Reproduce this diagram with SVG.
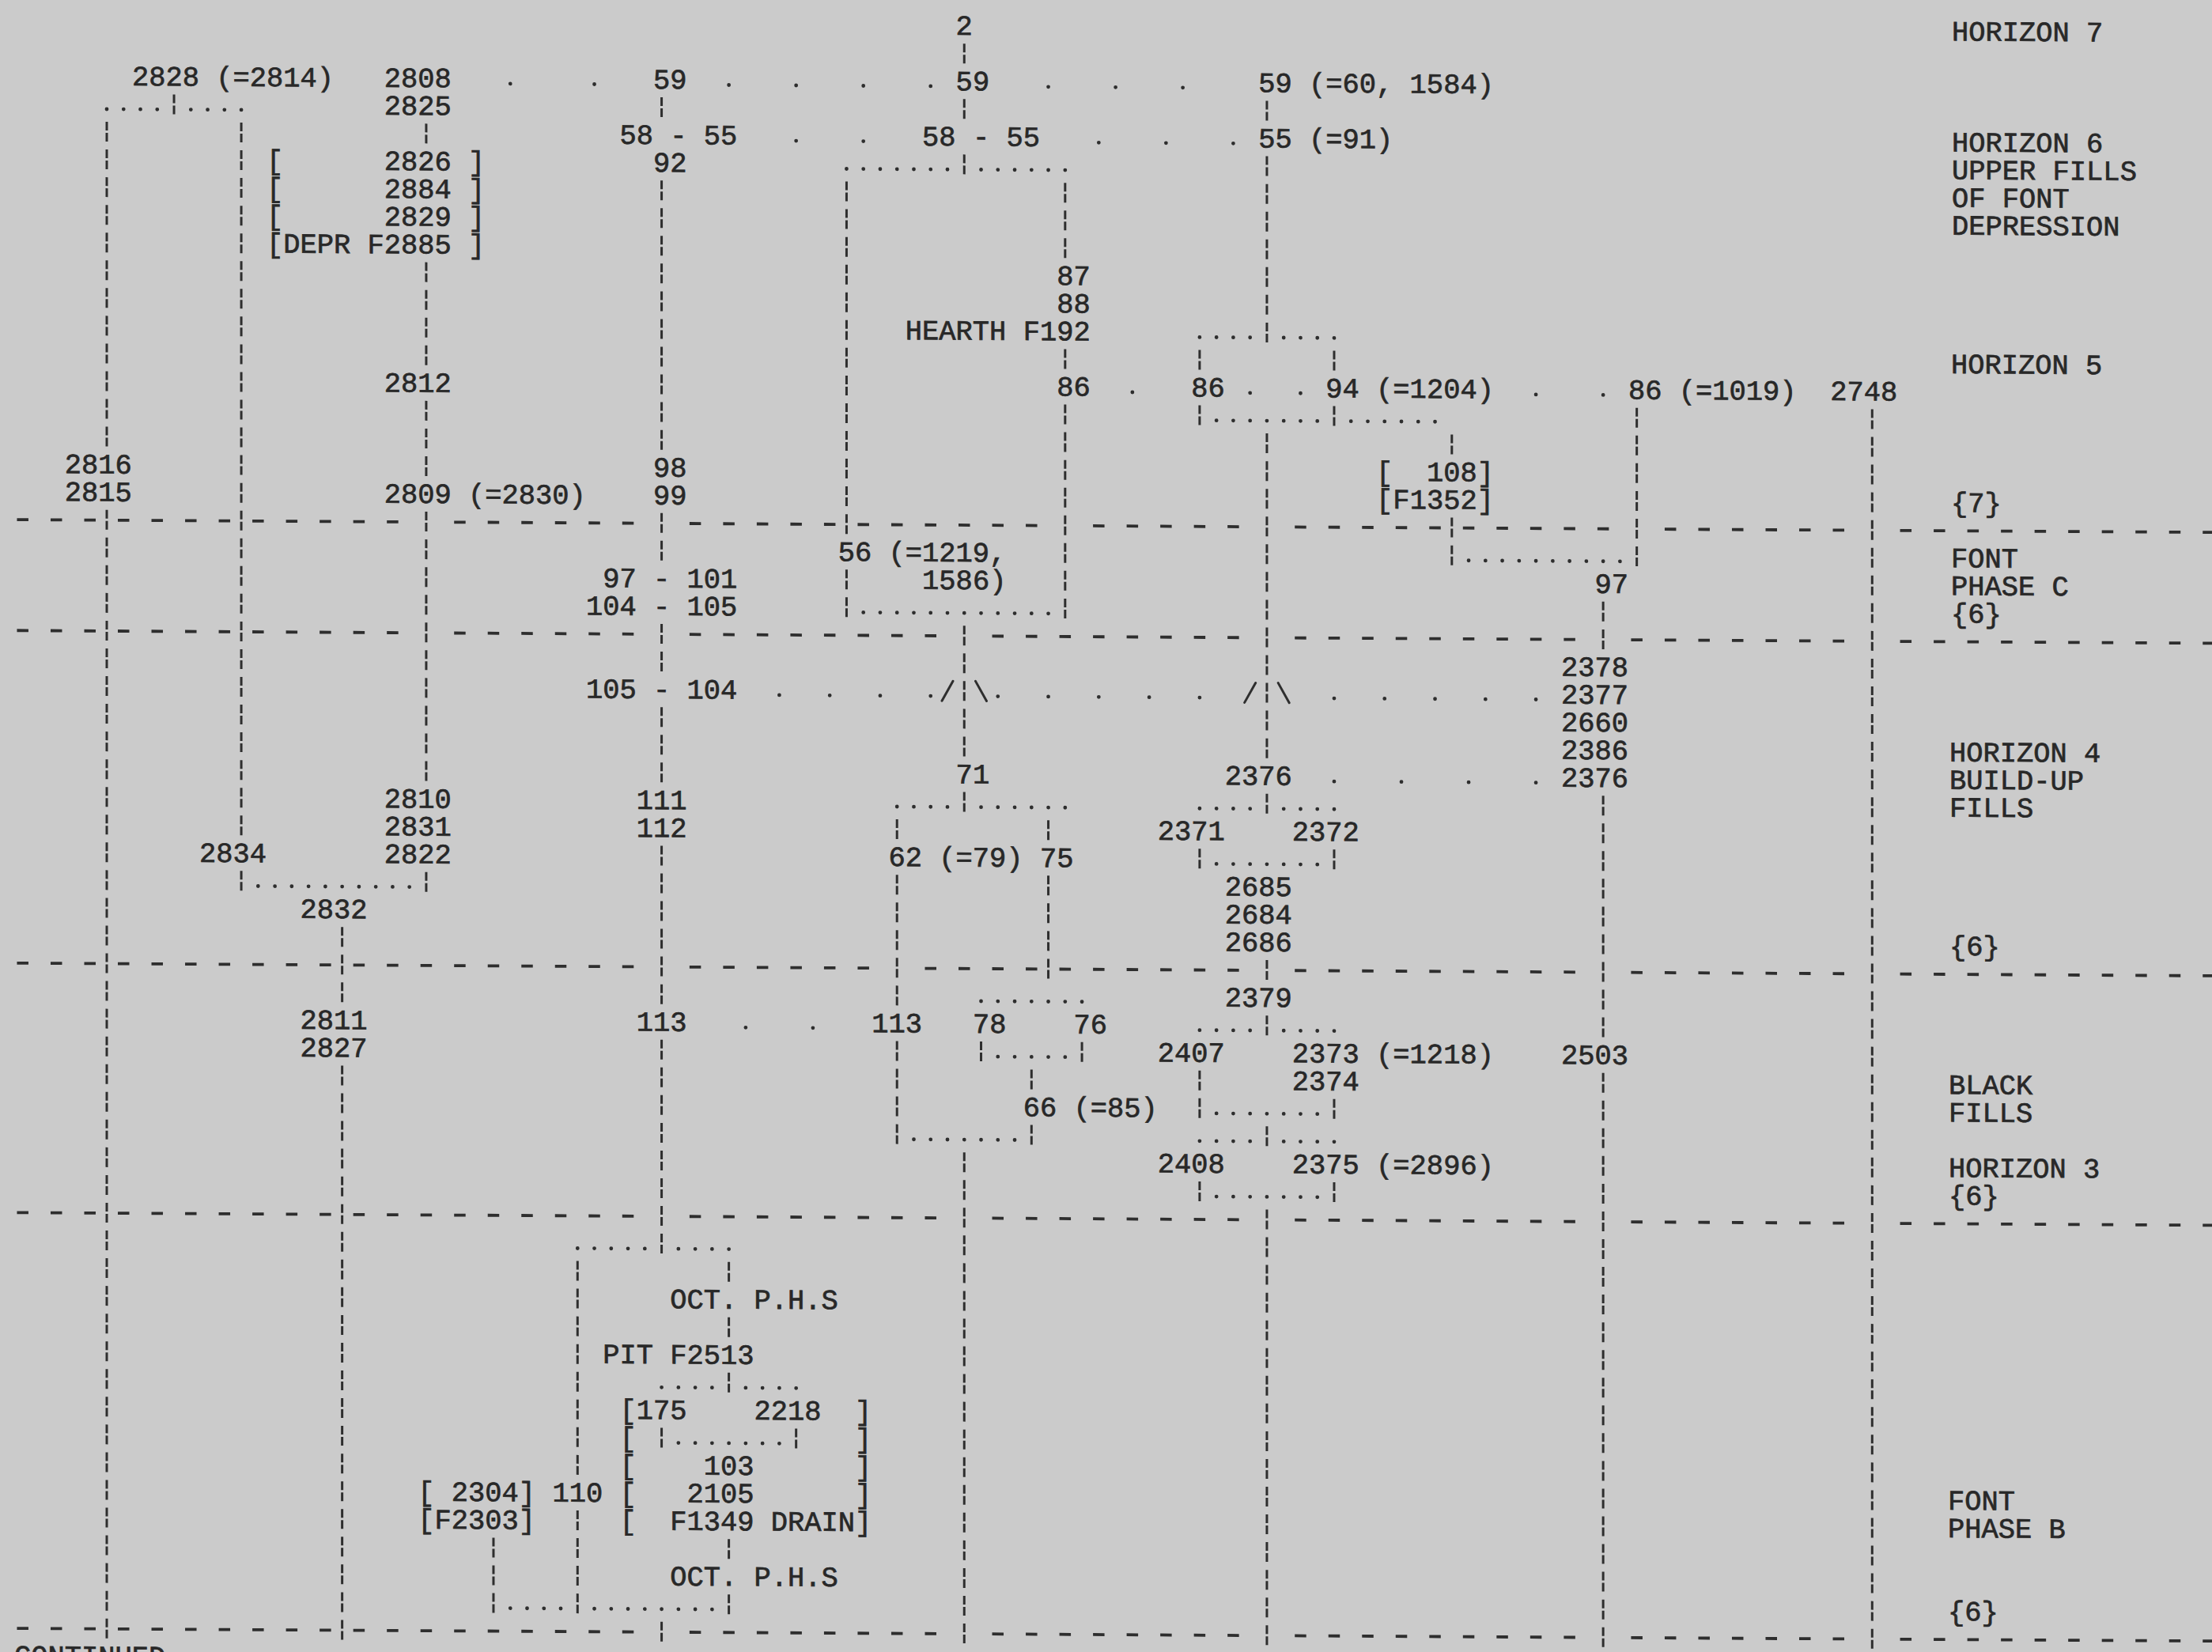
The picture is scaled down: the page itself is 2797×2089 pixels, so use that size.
<svg xmlns="http://www.w3.org/2000/svg" width="2797" height="2089" viewBox="0 0 2797 2089" xml:space="preserve">
<style>
.t{font-family:"Liberation Mono","DejaVu Sans Mono",monospace;font-size:35.43px;fill:#282828;stroke:#282828;stroke-width:0.7;white-space:pre}
.v{stroke:#2e2e2e;stroke-width:3;stroke-dasharray:11 3 11 10.05;fill:none}
.h{stroke:#2e2e2e;stroke-width:3.8;stroke-dasharray:14.5 28.02;fill:none}
.d1{stroke:#2e2e2e;stroke-width:4.8;stroke-linecap:round;stroke-dasharray:0 21.26;fill:none}
.d3{stroke:#2e2e2e;stroke-width:4.8;stroke-linecap:round;stroke-dasharray:0 63.78;fill:none}
.d4{stroke:#2e2e2e;stroke-width:4.8;stroke-linecap:round;stroke-dasharray:0 85.04;fill:none}
.dot{fill:#2e2e2e}
.sl{stroke:#2e2e2e;stroke-width:3;stroke-linecap:round;fill:none}
</style>
<rect width="2797" height="2089" fill="#cbcbcb"/>
<g id="sheet" transform="matrix(1 0.0058 0 1 18.07 37.15)">
<g id="connectors">
<g id="horizon-lines">
<path class="h" d="M3.38 619.9H485.6M556.14 619.9H783.24M853.78 619.9H1293.48M1364.02 619.9H1548.6M1619.14 619.9H2016.32M2086.86 619.9H2313.96M2384.5 619.9H2781.68"/>
<path class="h" d="M3.38 760.1H485.6M556.14 760.1H783.24M853.78 760.1H1165.92M1236.46 760.1H1548.6M1619.14 760.1H1973.8M2044.34 760.1H2313.96M2384.5 760.1H2781.68"/>
<path class="h" d="M3.38 1180.7H783.24M853.78 1180.7H1080.88M1151.42 1180.7H1548.6M1619.14 1180.7H1973.8M2044.34 1180.7H2313.96M2384.5 1180.7H2781.68"/>
<path class="h" d="M3.38 1496.15H783.24M853.78 1496.15H1165.92M1236.46 1496.15H1548.6M1619.14 1496.15H1973.8M2044.34 1496.15H2313.96M2384.5 1496.15H2781.68"/>
<path class="h" d="M3.38 2021.9H783.24M853.78 2021.9H1165.92M1236.46 2021.9H1548.6M1619.14 2021.9H1973.8M2044.34 2021.9H2313.96M2384.5 2021.9H2781.68"/>
</g>
<g id="verticals">
<path class="v" d="M116.93 116.2V526.75M116.93 606.9V2033.9"/>
<path class="v" d="M201.97 81.15V106.15"/>
<path class="v" d="M287.01 116.2V1017.45M287.01 1062.55V1087.55"/>
<path class="v" d="M414.57 1132.65V1227.75M414.57 1307.9V2033.9"/>
<path class="v" d="M520.87 116.2V141.2M520.87 291.45V421.6M520.87 466.7V561.8M520.87 606.9V947.35M520.87 1062.55V1087.55"/>
<path class="v" d="M605.91 1903.75V1998.85"/>
<path class="v" d="M712.21 1553.25V1823.6M712.21 1868.7V1998.85"/>
<path class="v" d="M818.51 81.15V106.15M818.51 186.3V526.75M818.51 606.9V666.95M818.51 747.1V807.15M818.51 852.25V947.35M818.51 1027.5V1227.75M818.51 1272.85V1543.2M818.51 1763.55V1788.55M818.51 2008.9V2033.9"/>
<path class="v" d="M903.55 1553.25V1578.25M903.55 1623.35V1648.35M903.55 1693.45V1718.45M903.55 1903.75V1928.75M903.55 1973.85V1998.85"/>
<path class="v" d="M988.59 1763.55V1788.55"/>
<path class="v" d="M1052.37 186.3V631.9M1052.37 677V737.05"/>
<path class="v" d="M1116.15 992.45V1017.45M1116.15 1062.55V1227.75M1116.15 1272.85V1403"/>
<path class="v" d="M1201.19 11.05V36.05M1201.19 81.15V106.15M1201.19 151.25V176.25M1201.19 747.1V912.3M1201.19 957.4V982.4M1201.19 1413.05V2033.9"/>
<path class="v" d="M1222.45 1272.85V1297.85"/>
<path class="v" d="M1286.23 1307.9V1332.9M1286.23 1378V1403"/>
<path class="v" d="M1307.49 992.45V1017.45M1307.49 1062.55V1192.7"/>
<path class="v" d="M1328.75 186.3V281.4M1328.75 396.6V421.6M1328.75 466.7V737.05"/>
<path class="v" d="M1350.01 1272.85V1297.85"/>
<path class="v" d="M1498.83 396.6V421.6M1498.83 466.7V491.7M1498.83 1027.5V1052.5M1498.83 1307.9V1367.95M1498.83 1448.1V1473.1"/>
<path class="v" d="M1583.87 81.15V106.15M1583.87 151.25V386.55M1583.87 501.75V912.3M1583.87 957.4V982.4M1583.87 1167.7V1192.7M1583.87 1237.8V1262.8M1583.87 1378V1403M1583.87 1483.15V2033.9"/>
<path class="v" d="M1668.91 396.6V421.6M1668.91 466.7V491.7M1668.91 1027.5V1052.5M1668.91 1342.95V1367.95M1668.91 1448.1V1473.1"/>
<path class="v" d="M1817.73 501.75V526.75M1817.73 606.9V666.95"/>
<path class="v" d="M2009.07 712.05V772.1M2009.07 957.4V1262.8M2009.07 1307.9V2033.9"/>
<path class="v" d="M2051.59 466.7V666.95"/>
<path class="v" d="M2349.23 466.7V2033.9"/>
</g>
<g id="dotted-links">
<path class="d1" d="M116.93 100.15H181.21M223.23 100.15H287.51"/>
<path class="d1" d="M1052.37 170.25H1180.43M1222.45 170.25H1329.25"/>
<path class="d1" d="M1498.83 380.55H1563.11M1605.13 380.55H1669.41"/>
<path class="d1" d="M1520.09 485.7H1648.15M1690.17 485.7H1796.97"/>
<path class="d1" d="M1838.99 660.95H2030.83"/>
<path class="d1" d="M1073.63 731.05H1307.99"/>
<path class="d1" d="M1116.15 976.4H1180.43M1222.45 976.4H1329.25M1498.83 976.4H1563.11M1605.13 976.4H1669.41"/>
<path class="d1" d="M1520.09 1046.5H1648.15"/>
<path class="d1" d="M308.27 1081.55H500.11"/>
<path class="d1" d="M1222.45 1221.75H1350.51"/>
<path class="d1" d="M1498.83 1256.8H1563.11M1605.13 1256.8H1669.41"/>
<path class="d1" d="M1243.71 1291.85H1329.25"/>
<path class="d1" d="M1520.09 1361.95H1648.15"/>
<path class="d1" d="M1137.41 1397H1265.47M1498.83 1397H1563.11M1605.13 1397H1669.41"/>
<path class="d1" d="M1520.09 1467.1H1648.15"/>
<path class="d1" d="M712.21 1537.2H797.75M839.77 1537.2H904.05"/>
<path class="d1" d="M818.51 1712.45H882.79M924.81 1712.45H989.09"/>
<path class="d1" d="M839.77 1782.55H967.83"/>
<path class="d1" d="M627.17 1992.85H691.45M733.47 1992.85H882.79"/>
<path class="d4" d="M903.55 65.1H1159.17M1307.49 65.1H1478.07"/>
<path class="d4" d="M988.59 135.2H1074.13M1371.27 135.2H1541.85"/>
<path class="d3" d="M967.33 836.2H1159.17M1243.71 836.2H1499.33M1668.91 836.2H1924.53"/>
<path class="d4" d="M1668.91 941.35H1924.53"/>
<path class="d4" d="M924.81 1256.8H1010.35"/>
<circle class="dot" cx="627.17" cy="65.1" r="2.4"/>
<circle class="dot" cx="733.47" cy="65.1" r="2.4"/>
<circle class="dot" cx="1413.79" cy="450.65" r="2.4"/>
<circle class="dot" cx="1562.61" cy="450.65" r="2.4"/>
<circle class="dot" cx="1626.39" cy="450.65" r="2.4"/>
<circle class="dot" cx="1924.03" cy="450.65" r="2.4"/>
<circle class="dot" cx="2009.07" cy="450.65" r="2.4"/>
</g>
<g id="splits">
<path class="sl" d="M1172.93 842.2L1186.93 817.2M1215.45 817.2L1229.45 842.2M1555.61 842.2L1569.61 817.2M1598.13 817.2L1612.13 842.2"/>
</g>
</g>
<g id="n2"><text class="t" x="1190.56" y="0">2</text></g>
<g id="n2828"><text class="t" x="148.82" y="70.1">2828 (=2814)</text></g>
<g id="n2808"><text class="t" x="467.72" y="70.1">2808</text><text class="t" x="467.72" y="105.15">2825</text></g>
<g id="n59a"><text class="t" x="807.88" y="70.1">59</text></g>
<g id="n59b"><text class="t" x="1190.56" y="70.1">59</text></g>
<g id="n59c"><text class="t" x="1573.24" y="70.1">59 (=60, 1584)</text></g>
<g id="n58a"><text class="t" x="765.36" y="140.2">58 - 55</text></g>
<g id="n58b"><text class="t" x="1148.04" y="140.2">58 - 55</text></g>
<g id="n55"><text class="t" x="1573.24" y="140.2">55 (=91)</text></g>
<g id="nF2885"><text class="t" x="318.9" y="175.25">[      2826 ]</text><text class="t" x="318.9" y="210.3">[      2884 ]</text><text class="t" x="318.9" y="245.35">[      2829 ]</text><text class="t" x="318.9" y="280.4">[DEPR F2885 ]</text></g>
<g id="n92"><text class="t" x="807.88" y="175.25">92</text></g>
<g id="nF192"><text class="t" x="1318.12" y="315.45">87</text><text class="t" x="1318.12" y="350.5">88</text><text class="t" x="1126.78" y="385.55">HEARTH F192</text></g>
<g id="n2812"><text class="t" x="467.72" y="455.65">2812</text></g>
<g id="n86a"><text class="t" x="1318.12" y="455.65">86</text></g>
<g id="n86b"><text class="t" x="1488.2" y="455.65">86</text></g>
<g id="n94"><text class="t" x="1658.28" y="455.65">94 (=1204)</text></g>
<g id="n86c"><text class="t" x="2040.96" y="455.65">86 (=1019)</text></g>
<g id="n2748"><text class="t" x="2296.08" y="455.65">2748</text></g>
<g id="n2816"><text class="t" x="63.78" y="560.8">2816</text><text class="t" x="63.78" y="595.85">2815</text></g>
<g id="n98"><text class="t" x="807.88" y="560.8">98</text><text class="t" x="807.88" y="595.85">99</text></g>
<g id="nF1352"><text class="t" x="1722.06" y="560.8">[  108]</text><text class="t" x="1722.06" y="595.85">[F1352]</text></g>
<g id="n2809"><text class="t" x="467.72" y="595.85">2809 (=2830)</text></g>
<g id="n56"><text class="t" x="1041.74" y="665.95">56 (=1219,</text><text class="t" x="1148.04" y="701">1586)</text></g>
<g id="n97a"><text class="t" x="744.1" y="701">97 - 101</text><text class="t" x="722.84" y="736.05">104 - 105</text></g>
<g id="n97b"><text class="t" x="1998.44" y="701">97</text></g>
<g id="n2378"><text class="t" x="1955.92" y="806.15">2378</text><text class="t" x="1955.92" y="841.2">2377</text><text class="t" x="1955.92" y="876.25">2660</text><text class="t" x="1955.92" y="911.3">2386</text><text class="t" x="1955.92" y="946.35">2376</text></g>
<g id="n105"><text class="t" x="722.84" y="841.2">105 - 104</text></g>
<g id="n71"><text class="t" x="1190.56" y="946.35">71</text></g>
<g id="n2376"><text class="t" x="1530.72" y="946.35">2376</text></g>
<g id="n2810"><text class="t" x="467.72" y="981.4">2810</text><text class="t" x="467.72" y="1016.45">2831</text><text class="t" x="467.72" y="1051.5">2822</text></g>
<g id="n111"><text class="t" x="786.62" y="981.4">111</text><text class="t" x="786.62" y="1016.45">112</text></g>
<g id="n2371"><text class="t" x="1445.68" y="1016.45">2371</text></g>
<g id="n2372"><text class="t" x="1615.76" y="1016.45">2372</text></g>
<g id="n2834"><text class="t" x="233.86" y="1051.5">2834</text></g>
<g id="n62"><text class="t" x="1105.52" y="1051.5">62 (=79) 75</text></g>
<g id="n2685"><text class="t" x="1530.72" y="1086.55">2685</text><text class="t" x="1530.72" y="1121.6">2684</text><text class="t" x="1530.72" y="1156.65">2686</text></g>
<g id="n2832"><text class="t" x="361.42" y="1121.6">2832</text></g>
<g id="n2379"><text class="t" x="1530.72" y="1226.75">2379</text></g>
<g id="n2811"><text class="t" x="361.42" y="1261.8">2811</text><text class="t" x="361.42" y="1296.85">2827</text></g>
<g id="n113a"><text class="t" x="786.62" y="1261.8">113</text></g>
<g id="n113b"><text class="t" x="1084.26" y="1261.8">113</text></g>
<g id="n78"><text class="t" x="1211.82" y="1261.8">78</text></g>
<g id="n76"><text class="t" x="1339.38" y="1261.8">76</text></g>
<g id="n2407"><text class="t" x="1445.68" y="1296.85">2407</text></g>
<g id="n2373"><text class="t" x="1615.76" y="1296.85">2373 (=1218)</text><text class="t" x="1615.76" y="1331.9">2374</text></g>
<g id="n2503"><text class="t" x="1955.92" y="1296.85">2503</text></g>
<g id="n66"><text class="t" x="1275.6" y="1366.95">66 (=85)</text></g>
<g id="n2408"><text class="t" x="1445.68" y="1437.05">2408</text></g>
<g id="n2375"><text class="t" x="1615.76" y="1437.05">2375 (=2896)</text></g>
<g id="nOCT1"><text class="t" x="829.14" y="1612.3">OCT. P.H.S</text></g>
<g id="nPIT"><text class="t" x="744.1" y="1682.4">PIT F2513</text></g>
<g id="nF1349"><text class="t" x="765.36" y="1752.5">[175    2218  ]</text><text class="t" x="765.36" y="1787.55">[</text><text class="t" x="1063" y="1787.55">]</text><text class="t" x="765.36" y="1822.6">[</text><text class="t" x="871.66" y="1822.6">103</text><text class="t" x="1063" y="1822.6">]</text><text class="t" x="765.36" y="1857.65">[</text><text class="t" x="850.4" y="1857.65">2105</text><text class="t" x="1063" y="1857.65">]</text><text class="t" x="765.36" y="1892.7">[</text><text class="t" x="829.14" y="1892.7">F1349 DRAIN]</text></g>
<g id="n110"><text class="t" x="680.32" y="1857.65">110</text></g>
<g id="nF2303"><text class="t" x="510.24" y="1857.65">[ 2304]</text><text class="t" x="510.24" y="1892.7">[F2303]</text></g>
<g id="nOCT2"><text class="t" x="829.14" y="1962.8">OCT. P.H.S</text></g>
<g id="continued"><text class="t" x="0" y="2067.95">CONTINUED</text></g>
<g id="labels">
<text class="t" x="2450" y="0">HORIZON 7</text>
<text class="t" x="2450" y="140.2">HORIZON 6</text>
<text class="t" x="2450" y="175.25">UPPER FILLS</text>
<text class="t" x="2450" y="210.3">OF FONT</text>
<text class="t" x="2450" y="245.35">DEPRESSION</text>
<text class="t" x="2449" y="420.6">HORIZON 5</text>
<text class="t" x="2449" y="595.85">{7}</text>
<text class="t" x="2449" y="665.95">FONT</text>
<text class="t" x="2449" y="701">PHASE C</text>
<text class="t" x="2449" y="736.05">{6}</text>
<text class="t" x="2447" y="911.3">HORIZON 4</text>
<text class="t" x="2447" y="946.35">BUILD-UP</text>
<text class="t" x="2447" y="981.4">FILLS</text>
<text class="t" x="2447" y="1156.65">{6}</text>
<text class="t" x="2446" y="1331.9">BLACK</text>
<text class="t" x="2446" y="1366.95">FILLS</text>
<text class="t" x="2446" y="1437.05">HORIZON 3</text>
<text class="t" x="2446" y="1472.1">{6}</text>
<text class="t" x="2445" y="1857.65">FONT</text>
<text class="t" x="2445" y="1892.7">PHASE B</text>
<text class="t" x="2445" y="1997.85">{6}</text>
</g>
</g>
</svg>
